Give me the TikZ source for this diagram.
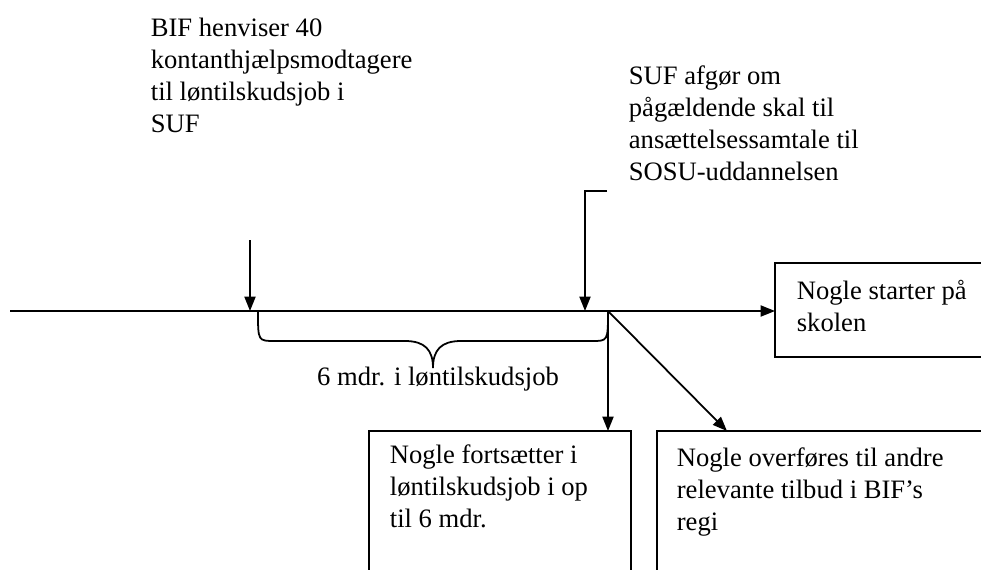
\documentclass[tikz,border=0pt]{standalone}
\usepackage{fontspec}
\setmainfont{Liberation Serif}
\usetikzlibrary{arrows.meta,calc}

\begin{document}
\begin{tikzpicture}[x=0.01585cm,y=-0.01585cm,line width=0.8pt,
		tip/.style={-{Triangle[length=6.5pt,width=5pt]}},
		txt/.style={inner sep=0pt,align=left,anchor=north west,font=\fontsize{12}{14.4}\selectfont},
		boks/.style={draw,inner sep=0pt,outer sep=0pt,anchor=north west}]
		\useasboundingbox (0,0) rectangle (981,569);
		% tekster over tidslinjen
		\node[txt] (bif) at (150,17) {BIF henviser 40\\kontanthjælpsmodtagere\\til løntilskudsjob i\\SUF};
		\node[txt] (suf) at (628,65) {SUF afgør om\\pågældende skal til\\ansættelsessamtale til\\SOSU-uddannelsen};
		% kasser
		\node[boks,minimum width=4.2cm,minimum height=1.49cm] (skole) at (775,263) {};
		\node[boks,minimum width=4.153cm,minimum height=2.7cm] (fort) at (369,431) {};
		\node[boks,minimum width=6.4cm,minimum height=2.7cm] (over) at (657,431) {};
		\node[txt] (skoletxt) at ($(skole.north west)+(21,16)$) {Nogle starter på\\skolen};
		\node[txt] (forttxt) at ($(fort.north west)+(20,13)$) {Nogle fortsætter i\\løntilskudsjob i op\\til 6 mdr.};
		\node[txt] (overtxt) at ($(over.north west)+(19,16)$) {Nogle overføres til andre\\relevante tilbud i BIF’s\\regi};
		\node[inner sep=0pt,anchor=base,font=\fontsize{12}{14.4}\selectfont] (mdr) at (438,385) {6 mdr. i løntilskudsjob};
		% tidslinje
		\coordinate (t0) at (10,311);
		\coordinate (split) at (608,311);
		\coordinate (a1) at (250,240);
		\coordinate (a2) at (607,191);
		\coordinate (a2k) at (585,191);
		\draw[tip] (t0) -- (t0 -| skole.west);
		\draw[tip] (a1) -- (a1 |- t0);
		\draw[tip] (a2) -- (a2k) -- (a2k |- t0);
		\draw[tip] (split) -- (split |- fort.north);
		\draw[tip] (split) -- ($(over.north west)+(70,0)$);
		% klamme
		\draw (258,312) .. controls (258,341) .. (275,341) -- (405,341)
			.. controls (425,341) and (433,350) .. (433,368)
			.. controls (433,350) and (441,341) .. (461,341) -- (592,341)
			.. controls (608,341) .. (split);
		\end{tikzpicture}
\end{document}
